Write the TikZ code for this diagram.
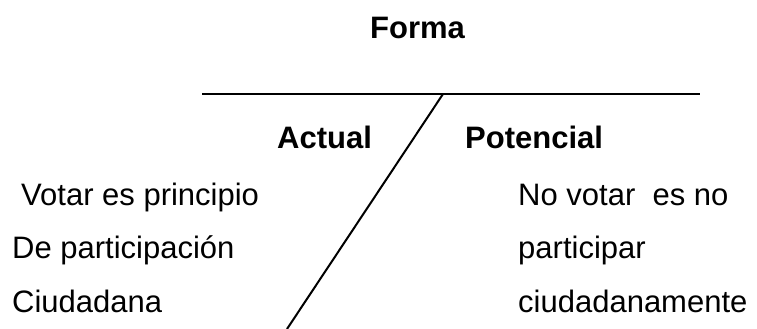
\documentclass[tikz,border=0pt]{standalone}
\usepackage{fontspec}
\setmainfont{Liberation Sans}
\begin{document}
\begin{tikzpicture}[
		x=1pt, y=-1pt,
		txt/.style = {anchor=base west, inner sep=0pt, font=\fontsize{31}{37}\selectfont},
		head/.style = {txt, font=\fontsize{31}{37}\selectfont\bfseries},
		rule/.style = {draw, line width=2pt},
		]
		\useasboundingbox (0,0) rectangle (757,329);
		\node[head] (forma) at (370,38) {Forma};
		\node[head] (actual) at (277,148) {Actual};
		\node[head] (potencial) at (465,148) {Potencial};
		\coordinate (hl) at (202,94);
		\coordinate (hr) at (700,94);
		\coordinate (dtop) at (443,94);
		\coordinate (dbot) at (287,329);
		\draw[rule] (hl) -- (hr);
		\draw[rule] (dtop) -- (dbot);
		\node[txt] (l1) at (21,205) {Votar es principio};
		\node[txt] (l2) at (12,258) {De participación};
		\node[txt] (l3) at (12,312) {Ciudadana};
		\node[txt] (r1) at (518,205) {No votar\ \ es no};
		\node[txt] (r2) at (518,258) {participar};
		\node[txt] (r3) at (518,312) {ciudadanamente};
	\end{tikzpicture}
\end{document}
